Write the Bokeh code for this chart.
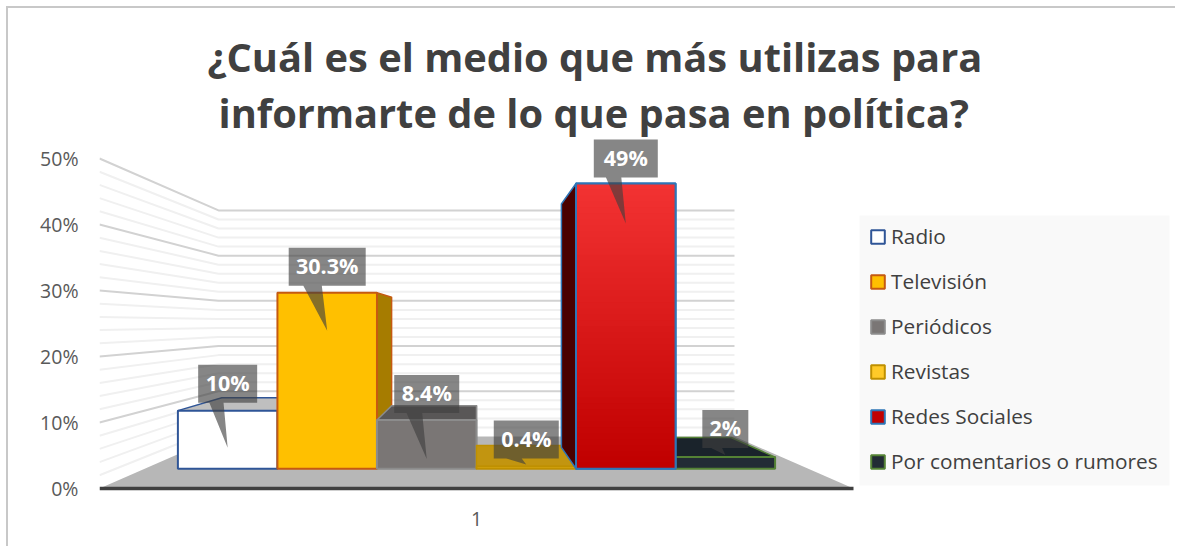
from bokeh.plotting import figure
from bokeh.models import (Legend, LegendItem, FixedTicker, PrintfTickFormatter, Range1d, Title)
from bokeh.core.properties import value
from bokeh.embed import file_html
from bokeh.resources import INLINE

# ---- data ----
categories = ["Radio", "Televisión", "Periódicos", "Revistas", "Redes Sociales", "Por comentarios o rumores"]
values = [10, 30.3, 8.4, 0.4, 49.1, 2]
labels = ["10%", "30.3%", "8.4%", "0.4%", "49%", "2%"]
y_ticks = [0, 10, 20, 30, 40, 50]
x_tick_label = "1"
title_lines = ["¿Cuál es el medio que más utilizas para", "informarte de lo que pasa en política?"]

# ---- styles ----
front_colors = ["#ffffff", "#ffc000", "#7a7675", "#ffca28", "#c00000", "#222b35"]
edge_colors = ["#2f5597", "#c55a11", "#8c8c8c", "#bf9000", "#2e75b6", "#548235"]
top_colors = ["#bfbfbf", "#ffc000", "#595757", "#c29510", "#f33333", "#1a232b"]
side_colors = ["#bfbfbf", "#a67c00", "#595757", "#a67c00", "#4a0000", "#1a232b"]
draw_order = [0, 1, 2, 3, 5, 4]
box_half_width = [29.5, 38.5, 32.5, 32.5, 32, 23]
tip_below_top = [37, 38, 39, -2, 40, -2]   # px
box_above_tip = [83, 83, 84, 44, 84, 45]   # px

# ---- pseudo-3D projection, in chart units ----
PX = 754.0      # screen px per x unit at the front edge
PY = 6.6        # screen px per percent at the front edge
WALL = 119 / PX
FLOOR = 52 / PY
SHRINK = 0.315
D_FRONT, D_BACK = 0.38, 0.79
U0, U_STEP = 0.05, 0.15


def X(u, d):
    return WALL * d + u * (1 - 2 * WALL * d)


def Y(v, d):
    return FLOOR * d + v * (1 - SHRINK * d)


W, H = 1169, 540
p = figure(width=W, height=H, output_backend="svg", toolbar_location=None,
           x_range=Range1d(0, 1078 / PX), y_range=Range1d(-4 / PY, 353 / PY),
           min_border_left=91, min_border_right=0, min_border_top=127, min_border_bottom=56,
           margin=(8, 0, 0, 8), styles={"box-shadow": "-2px -2px 0 0 #c8c8c8"},
           background_fill_color="white", border_fill_color="white",
           outline_line_color=None)
p.grid.visible = False

for line, off, stand in zip(title_lines[::-1], [119, 108], [-8, 5]):
    p.add_layout(Title(text=line, align="left", offset=off, standoff=stand, text_font="Open Sans",
                       text_font_style="bold", text_font_size="39.8px", text_color="#404040"), "above")

# axes
p.yaxis.ticker = FixedTicker(ticks=y_ticks)
p.yaxis.formatter = PrintfTickFormatter(format="%d%%")
p.yaxis.axis_line_color = None
p.yaxis.major_tick_line_color = None
p.yaxis.minor_tick_line_color = None
p.yaxis.major_label_standoff = 15
p.yaxis.major_label_text_font = "Open Sans"
p.yaxis.major_label_text_font_size = "19.5px"
p.yaxis.major_label_text_color = "#595959"
p.xaxis.ticker = FixedTicker(ticks=[0.5])
p.xaxis.major_label_overrides = {0.5: x_tick_label}
p.xaxis.axis_line_color = None
p.xaxis.major_tick_line_color = None
p.xaxis.minor_tick_line_color = None
p.xaxis.major_label_standoff = 13
p.xaxis.major_label_text_font = "Open Sans"
p.xaxis.major_label_text_font_size = "19.5px"
p.xaxis.major_label_text_color = "#595959"

# walls
for v in range(2, 52, 2):
    major = v % 10 == 0
    p.line([0, X(0, 1), X(1, 1)], [v, Y(v, 1), Y(v, 1)],
           line_color="#d2d2d2" if major else "#f0f0f0", line_width=2)

# floor
p.patch([0, 1, X(1, 1), X(0, 1)], [0, 0, Y(0, 1), Y(0, 1)], fill_color="#b7b7b7", line_color=None)
p.line([0, 1], [0, 0], line_color="#404040", line_width=3.5)

# legend panel background
p.quad(left=[760 / PX], right=[1070 / PX], bottom=[3 / PY], top=[273 / PY], fill_color="#f9f9f9", line_color=None)

# bars
front_renderers = {}
for i in draw_order:
    v = values[i]
    ul, ur = U0 + i * U_STEP, U0 + (i + 1) * U_STEP
    fy0, fy1 = Y(0, D_FRONT), Y(v, D_FRONT)
    by0, by1 = Y(0, D_BACK), Y(v, D_BACK)
    fxl, fxr, bxl, bxr = X(ul, D_FRONT), X(ur, D_FRONT), X(ul, D_BACK), X(ur, D_BACK)
    style = dict(line_color=edge_colors[i], line_width=1.5, line_join="round")
    if bxl < fxl:      # left side face
        p.patch([fxl, bxl, bxl, fxl], [fy0, by0, by1, fy1], fill_color=side_colors[i], **style)
    if bxr > fxr:      # right side face
        p.patch([fxr, bxr, bxr, fxr], [fy0, by0, by1, fy1], fill_color=side_colors[i], **style)
    if by1 > fy1:      # top face
        p.patch([fxl, fxr, bxr, bxl], [fy1, fy1, by1, by1], fill_color=top_colors[i], **style)
    front_renderers[i] = p.quad(left=[fxl], right=[fxr], bottom=[fy0], top=[fy1],
                                fill_color=front_colors[i], line_color=edge_colors[i], line_width=2)
    if i == 4:         # red front face has a vertical gradient
        n = 48
        for k in range(n):
            t = k / (n - 1)
            c = "#%02x%02x%02x" % (int(0xc0 + t * (0xf3 - 0xc0)), int(t * 0x33), int(t * 0x33))
            p.quad(left=[fxl], right=[fxr], bottom=[fy0 + (fy1 - fy0) * k / n],
                   top=[fy0 + (fy1 - fy0) * (k + 1.3) / n if k < n - 1 else fy1],
                   fill_color=c, line_color=None)
        p.quad(left=[fxl], right=[fxr], bottom=[fy0], top=[fy1], fill_color=None,
               line_color=edge_colors[i], line_width=2)

# callout data labels
for i, (v, txt) in enumerate(zip(values, labels)):
    cx = X(U0 + (i + 0.5) * U_STEP, D_FRONT)
    tip = Y(v, D_FRONT) - tip_below_top[i] / PY
    top = tip + box_above_tip[i] / PY
    bot = top - 38 / PY
    w = box_half_width[i] / PX
    xs = [cx - w, cx + w, cx + w, cx - 0.07 * 2 * w, cx, cx - 0.31 * 2 * w, cx - w]
    ys = [top, top, bot, bot, tip, bot, bot]
    p.patch(xs, ys, fill_color="#404040", fill_alpha=0.63, line_color=None)
    p.text([cx], [(top + bot) / 2 + 1.2 / PY], text=[txt], text_align="center", text_baseline="middle",
           text_color="white", text_font=value("Open Sans"), text_font_style="bold", text_font_size="21.5px")

# legend
legend = Legend(items=[LegendItem(label=c, renderers=[front_renderers[i]]) for i, c in enumerate(categories)],
                location=(770, 17), orientation="vertical", background_fill_alpha=0,
                border_line_color=None, label_text_font="Open Sans", label_text_font_size="20.8px",
                label_text_color="#404040", glyph_width=17, glyph_height=17, label_standoff=5,
                padding=10, spacing=17, margin=0)
p.add_layout(legend)

open("out.html", "w").write(file_html(p, INLINE))
